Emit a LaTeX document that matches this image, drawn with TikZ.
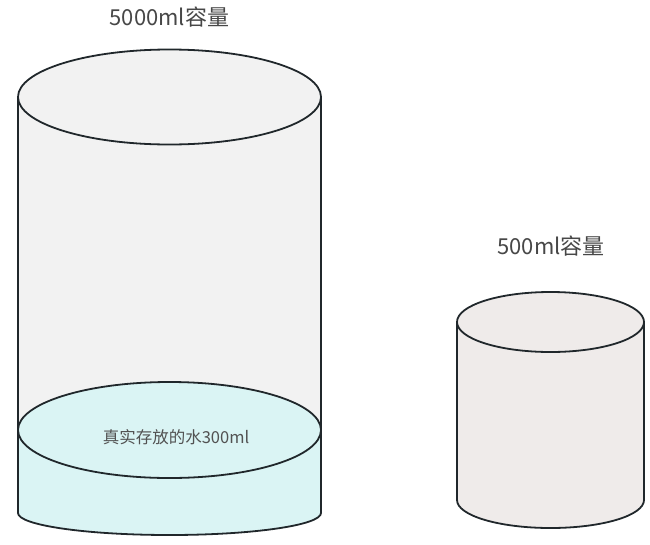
\documentclass[tikz,border=0pt]{standalone}
\usepackage{fontspec}
\setmainfont{Noto Sans CJK SC}
\definecolor{bigfill}{HTML}{F2F2F2}
\definecolor{smallfill}{HTML}{EFEBEA}
\definecolor{waterfill}{HTML}{DAF4F4}
\definecolor{rim}{HTML}{20272B}
\begin{document}
\begin{tikzpicture}[x=1pt,y=-1pt,
    wall/.style={line width=1.8pt,draw=rim},
    caption/.style={text=black!72,font=\fontsize{22}{24}\selectfont},
    watertext/.style={text=black!68,font=\fontsize{16.5}{18}\selectfont}]
  \useasboundingbox (0,0) rectangle (650,544);
  % big cylinder, 5000ml
  \fill[bigfill] (18,97) rectangle (321,430);
  \draw[wall] (18,97) -- (18,430) (321,97) -- (321,430);
  \draw[wall,fill=bigfill] (169.5,97) ellipse [x radius=151.5,y radius=47.5];
  % water inside it
  \draw[wall,fill=waterfill] (18,430) -- (18,513)
        arc[start angle=180,end angle=0,x radius=151.5,y radius=22] -- (321,430);
  \draw[wall,fill=waterfill] (169.5,430) ellipse [x radius=151.5,y radius=48];
  % small cylinder, 500ml
  \draw[wall,fill=smallfill] (457,322) -- (457,500)
        arc[start angle=180,end angle=0,x radius=93.5,y radius=28] -- (644,322);
  \draw[wall,fill=smallfill] (550.5,322) ellipse [x radius=93.5,y radius=30];
  \node[caption] (big) at (169.5,17) {5000ml容量};
  \node[caption] (small) at (551,246) {500ml容量};
  \node[watertext] (water) at (176,437) {真实存放的水300ml};
\end{tikzpicture}
\end{document}
